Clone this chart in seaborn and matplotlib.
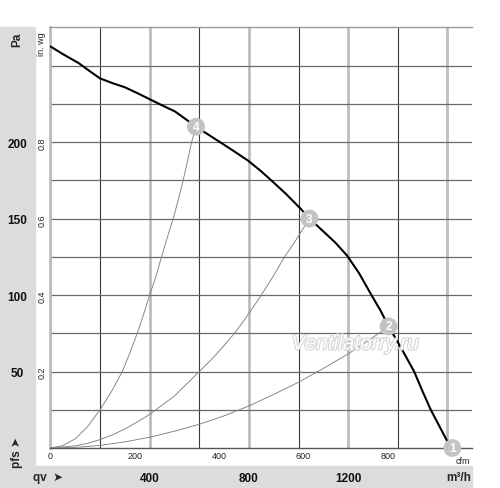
import matplotlib
matplotlib.use('Agg')
import matplotlib.pyplot as plt
import seaborn as sns
from matplotlib.patches import Rectangle
import matplotlib.patheffects as pe

# ---------------- data ----------------
# main fan curve: static pressure pfs [Pa] vs air flow qv [m³/h]
main_q = [0, 50, 114, 157, 200, 250, 300, 350, 400, 450, 502, 545, 587, 635, 683, 740, 797,
          845, 890, 950, 1011, 1044, 1104, 1150, 1197, 1245, 1292, 1330, 1363, 1415, 1466,
          1500, 1533, 1575, 1614]
main_p = [262.5, 257.5, 251.6, 246.5, 241.6, 238.5, 235.8, 232, 228, 224, 220, 215, 210, 205,
          200, 194, 187.8, 181.5, 175, 166, 156, 150, 141, 134, 125.5, 114, 100.5, 90, 79.5,
          65, 50, 37, 25, 12, 0]

# system (resistance) curves through operating points 2, 3, 4
sys2_q = [0, 100, 200, 300, 400, 500, 600, 700, 800, 900, 1000, 1100, 1200, 1280, 1363]
sys2_p = [0, 0.4, 1.7, 4, 7, 11, 15.5, 21, 27.5, 35, 43, 52, 61.5, 70, 79.5]
sys3_q = [0, 100, 150, 200, 250, 300, 350, 400, 450, 500, 550, 600, 650, 700, 742, 783, 817,
          850, 897, 944, 994, 1044]
sys3_p = [0, 1.4, 3, 5.5, 8.6, 12.4, 17, 22, 28, 34, 42, 50, 58, 67, 75, 84, 92, 100, 112,
          125, 137, 150]
sys4_q = [0, 50, 100, 150, 200, 250, 290, 320, 350, 375, 400, 425, 448, 470, 495, 515, 535,
          552, 569, 587]
sys4_p = [0, 1.5, 6, 14, 25, 38, 50, 62, 75, 87, 100, 112, 125, 137, 150, 162, 175, 187,
          200, 210]

# operating points
op_labels = ['1', '2', '3', '4']
op_q = [1620, 1363, 1044, 587]
op_p = [0, 79.5, 150, 210]

# axis tick labels
qv_ticks = [0, 400, 800, 1200, 1600]
qv_labels = ['', '400', '800', '1200', '']
qv_minor = [200, 600, 1000, 1400]
pa_ticks = [50, 100, 150, 200]
pa_minor = [25, 75, 125, 175, 225, 250]
cfm_ticks = [0, 200, 400, 600, 800]
inwg_ticks = [0.2, 0.4, 0.6, 0.8]

M3H_PER_CFM = 1.699
PA_PER_INWG = 249.09

# ---------------- figure ----------------
sns.set_style('white')
plt.rcParams['font.family'] = ['Liberation Sans', 'DejaVu Sans']

W, H = 500, 489
fig = plt.figure(figsize=(W / 100, H / 100), dpi=100)


def fx(px):
    return px / W


def fy(py):
    return 1 - py / H


band = '#dcdcdc'
fig.patches.append(Rectangle((0, 0), fx(35), (489 - 28) / H, transform=fig.transFigure,
                             color=band, zorder=-5))
fig.patches.append(Rectangle((0, 0), fx(472), (489 - 467) / H, transform=fig.transFigure,
                             color=band, zorder=-5))

ax = fig.add_axes([fx(50.4), fy(449), (472.2 - 50.4) / W, (449 - 28.3) / H])
ax.set_xlim(0, 1700)
ax.set_ylim(0, 275)

ax.set_xticks(qv_ticks)
ax.set_xticklabels(qv_labels)
ax.set_xticks(qv_minor, minor=True)
ax.set_yticks(pa_ticks)
ax.set_yticks(pa_minor, minor=True)
ax.grid(which='major', axis='x', color='#bdbdbd', lw=2)
ax.grid(which='minor', axis='x', color='#3a3a3a', lw=0.8)
ax.grid(which='both', axis='y', color='#6a6a6a', lw=0.9)
ax.set_axisbelow(True)

ax.spines['right'].set_visible(False)
ax.spines['left'].set_color('#bdbdbd')
ax.spines['left'].set_linewidth(2)
ax.spines['top'].set_color('#9a9a9a')
ax.spines['top'].set_linewidth(1)
ax.spines['bottom'].set_color('#555555')
ax.spines['bottom'].set_linewidth(1)

ax.tick_params(axis='both', which='both', length=0)
ax.tick_params(axis='x', which='major', pad=17, labelsize=8.5, labelcolor='#111111')
ax.tick_params(axis='y', which='major', pad=24, labelsize=8.5, labelcolor='#111111')
for t in ax.get_xticklabels():
    t.set_fontweight('bold')
for t in ax.get_yticklabels():
    t.set_fontweight('bold')
    t.set_ha('center')

# secondary scales (cfm, in. wg)
sec_x = ax.secondary_xaxis('bottom', functions=(lambda q: q / M3H_PER_CFM, lambda c: c * M3H_PER_CFM))
sec_x.set_xticks(cfm_ticks)
sec_x.tick_params(length=0, pad=2.5, labelsize=6.5, colors='#222222')
sec_x.spines['bottom'].set_visible(False)

sec_y = ax.secondary_yaxis('left', functions=(lambda p: p / PA_PER_INWG, lambda w: w * PA_PER_INWG))
sec_y.set_yticks(inwg_ticks)
sec_y.set_yticklabels([f'{v:.1f}' for v in inwg_ticks], rotation=90, va='center')
sec_y.tick_params(length=0, pad=3, labelsize=6.5, colors='#222222')
sec_y.spines['left'].set_visible(False)

# curves
for q, p in [(sys2_q, sys2_p), (sys3_q, sys3_p), (sys4_q, sys4_p)]:
    sns.lineplot(x=q, y=p, ax=ax, color='#808080', lw=0.65, zorder=3)
sns.lineplot(x=main_q, y=main_p, ax=ax, color='black', lw=1.5, zorder=4)

# watermark
ax.text(1229, 68, 'Ventilatorry.ru', fontsize=15, style='italic', color='white',
        ha='center', va='center', zorder=4.5,
        path_effects=[pe.withStroke(linewidth=1.5, foreground='#d4d4d4')])

# cfm unit label (partly under point 1)
ax.text(1662, -0.0195, 'cfm', transform=ax.get_xaxis_transform(), fontsize=6.5,
        ha='center', va='top', color='#222222', clip_on=False, zorder=2)

# operating points
sns.scatterplot(x=op_q, y=op_p, ax=ax, s=165, color='#c3c3c3', edgecolor='none',
                zorder=6, legend=False)
for c in ax.collections:
    c.set_clip_on(False)
for lab, q, p in zip(op_labels, op_q, op_p):
    ax.text(q, p, lab, color='white', fontweight='bold', fontsize=8.5,
            ha='center', va='center', zorder=7, clip_on=False)

ax.set_xlabel('')
ax.set_ylabel('')

# band labels
fig.text(fx(17), fy(40), 'Pa', rotation=90, fontsize=8.5, fontweight='bold',
         ha='center', va='center')
fig.text(fx(17), fy(453), 'pfs ➤', rotation=90, fontsize=8.5, fontweight='bold',
         ha='center', va='center')
fig.text(fx(33), fy(478), 'qv  ➤', fontsize=8.5, fontweight='bold', ha='left', va='center')
fig.text(fx(471), fy(478), 'm³/h', fontsize=8.5, fontweight='bold', ha='right', va='center')
fig.text(fx(42), fy(44), 'in. wg', rotation=90, fontsize=6.5, color='#222222',
         ha='center', va='center')

fig.savefig('out.png', dpi=100)
